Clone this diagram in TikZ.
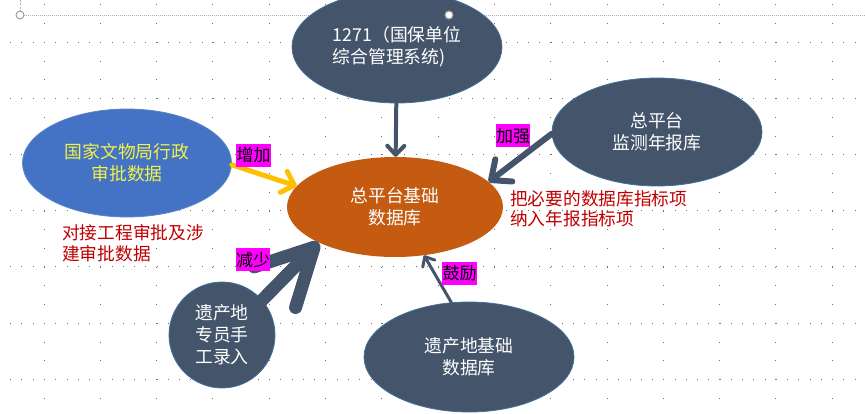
\documentclass[tikz,border=0pt]{standalone}
\usepackage{fontspec}
\newfontfamily\cjk{Noto Sans CJK SC}
\usepackage{xcolor}
\usetikzlibrary{shapes.geometric,arrows.meta,positioning}
\definecolor{slate}{HTML}{44546A}
\definecolor{rim}{HTML}{41719C}
\definecolor{govblue}{HTML}{4472C4}
\definecolor{govrim}{HTML}{5B86C8}
\definecolor{rust}{HTML}{C55A11}
\definecolor{amber}{HTML}{FFC000}
\definecolor{notered}{HTML}{C00000}
\definecolor{govyellow}{HTML}{F2F24A}
\definecolor{tagpink}{HTML}{FF00FF}
\definecolor{gridgray}{HTML}{6F6F6F}

\begin{document}
\begin{tikzpicture}[
    x=1pt, y=-1pt,
    db/.style={ellipse, draw=rim, line width=0.8pt, fill=slate, text=white, inner sep=0pt, align=center, font=\cjk\fontsize{17.8}{22}\selectfont},
    tag/.style={fill=tagpink, text=black, inner sep=0.4pt, minimum height=23pt, font=\cjk\fontsize{17}{20}\selectfont},
    note/.style={text=notered, align=left, inner sep=0pt, font=\cjk\fontsize{17.7}{20.5}\selectfont},
    link/.style={draw=slate, line cap=round},
    hdots/.style={gridgray, line width=0.9pt, dash pattern=on 0.9pt off 10.36pt},
    vdots/.style={gridgray, line width=0.9pt, dash pattern=on 0.9pt off 17.83pt}
]
    \useasboundingbox (0,0) rectangle (865,414);

    % background grid
    \foreach \k in {0,...,6}
        \draw[hdots] (10.2,{42+56.2*\k}) -- (865,{42+56.2*\k});
    \foreach \k in {0,...,14}
        \draw[vdots] ({44+56.3*\k},4.5) -- ({44+56.3*\k},414);
    \draw[gray!60, line width=0.8pt, dash pattern=on 1pt off 1pt] (24,15) -- (865,15);
    \draw[gray!60, line width=0.8pt, dash pattern=on 2pt off 1.5pt] (20,0) -- (20,11);

    \node[ellipse, fill=rust, text=white, inner sep=0pt, align=center, minimum width=216pt, minimum height=100pt, font=\cjk\fontsize{17.8}{22}\selectfont] (base) at (395,207) {总平台基础\\数据库};
    \node[db, align=left, minimum width=210pt, minimum height=112pt] (top) at (397,47) {1271（国保单位\\综合管理系统)};
    \node[ellipse, fill=govblue, draw=govrim, line width=0.8pt, text=govyellow, inner sep=0pt, align=center, minimum width=209pt, minimum height=108pt, font=\cjk\fontsize{17.8}{22}\selectfont] (gov) at (127,163) {国家文物局行政\\审批数据};
    \node[db, minimum width=210pt, minimum height=108pt] (mon) at (657,132) {总平台\\监测年报库};
    \node[db, minimum width=106pt, minimum height=106pt] (clerk) at (222,335) {遗产地\\专员手\\工录入};
    \node[db, minimum width=210pt, minimum height=110pt] (site) at (469,357) {遗产地基础\\数据库};

    \draw[white, fill=white] (449,15) circle (4);
    \draw[gray!80, line width=0.9pt] (449,15) circle (4);
    \draw[gray!80, line width=0.9pt, fill=white] (20,15) circle (4);

    \node[note, anchor=west] (gov-note) at (62,243) {对接工程审批及涉\\建审批数据};
    \node[note, anchor=west] (mon-note) at (510,209) {把必要的数据库指标项\\纳入年报指标项};

    \draw[link, line width=4pt, -{Straight Barb[round, length=9pt, width=17pt]}] (top) -- (base);
    \draw[amber, line width=5pt, line cap=round, -{Straight Barb[round, length=11pt, width=22pt]}] (gov.-1) -- (base.168);
    \draw[link, line width=6pt, -{Straight Barb[round, length=16pt, width=28pt]}] (mon.181) -- (base.15);
    \draw[link, line width=13pt, -{Straight Barb[round, length=56pt, width=58pt]}] (clerk.41) -- (base.205);
    \draw[link, line width=3pt, -{Straight Barb[round, length=8pt, width=14pt]}] (site.108) -- (base.301);

    \node[tag] (more) at (253.5,155.5) {增加};
    \node[tag] (stronger) at (513,136) {加强};
    \node[tag] (less) at (253,260) {减少};
    \node[tag] (urge) at (459.5,273.5) {鼓励};
\end{tikzpicture}
\end{document}
